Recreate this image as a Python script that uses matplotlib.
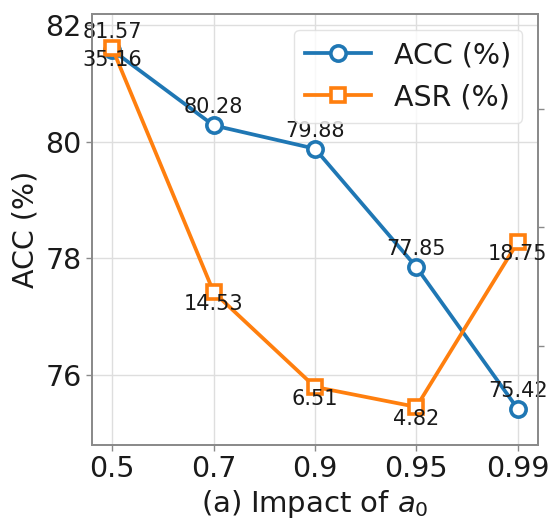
import matplotlib
matplotlib.use("Agg")
import matplotlib.pyplot as plt

x_labels = ["0.5", "0.7", "0.9", "0.95", "0.99"]
acc = [81.57, 80.28, 79.88, 77.85, 75.42]
asr = [35.16, 14.53, 6.51, 4.82, 18.75]

blue = "#1f77b4"
orange = "#ff7f0e"
spine_c = "#8a8a8a"
text_c = "#1a1a1a"

plt.rcParams['font.family'] = ['DejaVu Sans']
fig = plt.figure(figsize=(5.5, 5.19), dpi=100)
ax1 = fig.add_axes([92/550, 74/519, (538-92)/550, (445-14)/519])
ax2 = ax1.twinx()

xs = list(range(len(x_labels)))
l1, = ax1.plot(xs, acc, color=blue, lw=2.7, marker='o', ms=11, mfc='white',
               mec=blue, mew=2.6, label='ACC (%)')
l2, = ax2.plot(xs, asr, color=orange, lw=2.7, marker='s', ms=10, mfc='white',
               mec=orange, mew=2.6, label='ASR (%)')

for i, v in enumerate(acc):
    ax1.annotate(f"{v:.2f}", (i, v), xytext=(0, 13), textcoords='offset points',
                 ha='center', va='center', fontsize=15, color=text_c)
for i, v in enumerate(asr):
    ax2.annotate(f"{v:.2f}", (i, v), xytext=(0, -8.5), textcoords='offset points',
                 ha='center', va='center', fontsize=15, color=text_c)

ax1.set_xlim(-0.2, 4.2)
ax1.set_ylim(74.8, 82.19)
ax2.set_ylim(1.6, 38.05)
ax1.set_xticks(xs)
ax1.set_xticklabels(x_labels)
ax1.set_yticks([76, 78, 80, 82])
ax2.set_yticks([10, 20, 30])

ax1.grid(True, color='#dedede', lw=1.0)
ax1.set_axisbelow(True)
for ax in (ax1, ax2):
    for s in ax.spines.values():
        s.set_color(spine_c)
        s.set_linewidth(1.3)
    ax.tick_params(colors=spine_c, labelcolor=text_c, labelsize=20.5, length=4, width=1)

ax1.set_ylabel("ACC (%)", fontsize=20.5, color=text_c, labelpad=4)
ax1.set_xlabel("(a) Impact of $a_0$", fontsize=21, color=text_c, labelpad=3)

leg = ax2.legend(handles=[l1, l2], loc='upper right', fontsize=20.5, handlelength=2.3,
                 frameon=True, fancybox=True, borderaxespad=0.55)
leg.get_frame().set_edgecolor('#dddddd')
for t in leg.get_texts():
    t.set_color(text_c)

fig.savefig("out.png", dpi=100)
